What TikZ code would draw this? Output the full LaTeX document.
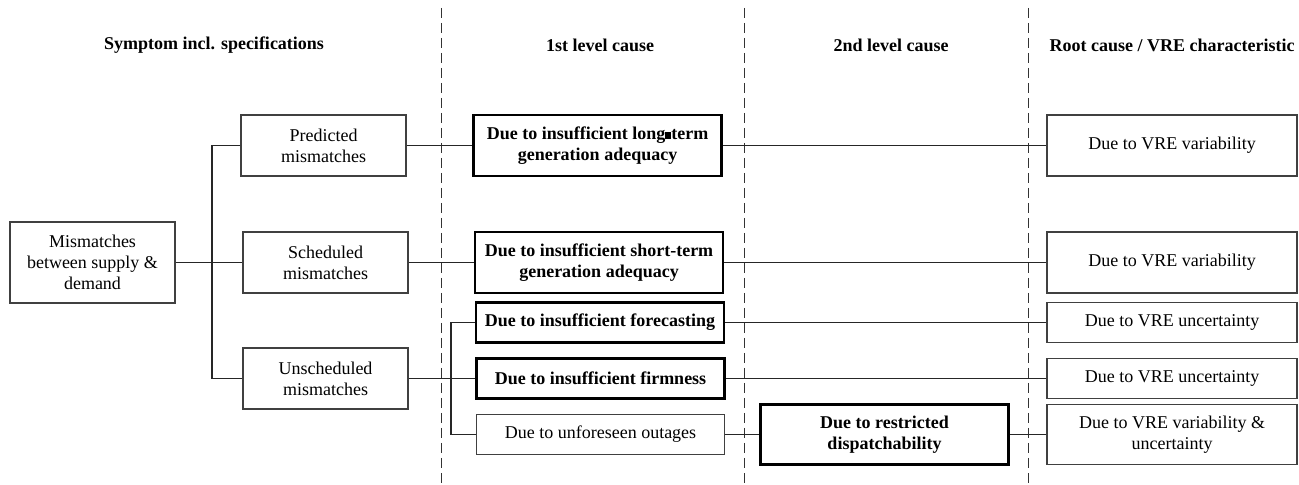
\documentclass[tikz,border=0pt]{standalone}
\usepackage{fontspec}
\setmainfont{Liberation Serif}
\usepackage{tikz}
\usetikzlibrary{calc, positioning}
\tikzset{
    plainbox/.style = {draw=black!75, line width=0.6pt, rectangle, inner sep=0pt,
      align=center, font=\fontsize{9}{10.5}\selectfont},
    boldbox/.style = {draw=black, line width=1.3pt, rectangle, inner sep=0pt,
      align=center, font=\fontsize{9}{10.5}\selectfont\bfseries},
    headnode/.style = {draw=none, inner sep=0pt, font=\fontsize{9}{10.5}\selectfont\bfseries},
    smallbox/.style = {minimum width=82.5pt, minimum height=30.5pt},
    widebox/.style = {minimum width=124pt, minimum height=30.5pt},
    flatbox/.style = {minimum width=124pt, minimum height=20pt},
    connect/.style = {black!85, line width=0.6pt},
    divider/.style = {black!80, line width=0.5pt, dash pattern=on 5pt off 2.5pt}
}

\begin{document}
\begin{tikzpicture}[x=0.5pt, y=-0.5pt]
    \useasboundingbox (0,0) rectangle (1299,485);

    % column dividers and headings
    \foreach \x in {441,744,1028} \draw[divider] (\x,8) -- (\x,485);
    \node [headnode, name=symptom] at (214,45) {Symptom incl. specifications};
    \node [headnode, name=first] at (600,45) {1st level cause};
    \node [headnode, name=second] at (891,45) {2nd level cause};
    \node [headnode, name=rootcause] at (1172,45) {Root cause / VRE characteristic};

    % symptoms
    \node [plainbox, minimum width=82.5pt, minimum height=40.5pt, name=mismatch] at (92.5,262.5)
      {Mismatches\\between supply \&\\demand};
    \node [plainbox, smallbox, name=predicted] at (323.5,145.5) {Predicted\\mismatches};
    \node [plainbox, smallbox, name=scheduled] at (325.5,262.5) {Scheduled\\mismatches};
    \node [plainbox, smallbox, name=unscheduled] at (325.5,378.5) {Unscheduled\\mismatches};

    % 1st level
    \node [boldbox, widebox, name=longterm] at (597.5,145.5)
      {Due to insufficient long\rule{3pt}{3.5pt}term\\generation adequacy};
    \node [boldbox, widebox, name=shortterm] at (599,262.5)
      {Due to insufficient short-term\\generation adequacy};
    \node [boldbox, flatbox, name=forecast] at (600,322.5) {Due to insufficient forecasting};
    \node [boldbox, flatbox, name=firmness] at (600.5,378.5) {Due to insufficient firmness};
    \node [plainbox, flatbox, name=outages] at (600.5,434.5) {Due to unforeseen outages};

    % 2nd level
    \node [boldbox, widebox, minimum height=30pt, name=dispatch] at (884.5,434.5)
      {Due to restricted\\dispatchability};

    % root causes
    \node [plainbox, minimum width=125pt, minimum height=30.5pt, name=var1] at (1172,145.5) {Due to VRE variability};
    \node [plainbox, minimum width=125pt, minimum height=30.5pt, name=var2] at (1172,262.5) {Due to VRE variability};
    \node [plainbox, minimum width=125pt, minimum height=20pt, name=unc1] at (1172,322.5) {Due to VRE uncertainty};
    \node [plainbox, minimum width=125pt, minimum height=20pt, name=unc2] at (1172,378.5) {Due to VRE uncertainty};
    \node [plainbox, minimum width=125pt, minimum height=30pt, name=varunc] at (1172,434.5)
      {Due to VRE variability \&\\uncertainty};

    % connectors
    \coordinate (trunk) at (212,262.5);
    \coordinate (branch) at (451,378.5);
    \draw [connect] (mismatch) -- (scheduled);
    \draw [connect] (predicted.west) -| (trunk) |- (unscheduled.west);
    \draw [connect] (predicted) -- (longterm);
    \draw [connect] (longterm) -- (var1);
    \draw [connect] (scheduled) -- (shortterm);
    \draw [connect] (shortterm) -- (var2);
    \draw [connect] (unscheduled) -- (firmness);
    \draw [connect] (forecast.west) -| (branch) |- (outages.west);
    \draw [connect] (forecast) -- (unc1);
    \draw [connect] (firmness) -- (unc2);
    \draw [connect] (outages) -- (dispatch);
    \draw [connect] (dispatch) -- (varunc);
\end{tikzpicture}
\end{document}
